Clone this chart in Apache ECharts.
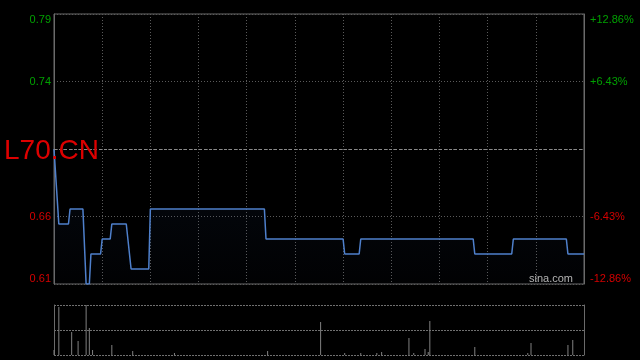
<!DOCTYPE html>
<html>
<head>
<meta charset="utf-8">
<script src="https://cdn.jsdelivr.net/npm/echarts@6/dist/echarts.min.js"></script>
<style>
html,body{margin:0;padding:0;background:#000;}
#c{width:640px;height:360px;}
</style>
</head>
<body>
<div id="c"></div>
<script>
// ---- data ----
const priceMinutes = [0, 1, 3, 9, 10, 18, 20, 22, 23, 29, 30, 35, 36, 45, 46, 47, 48, 59, 60, 131, 132, 180, 181, 190, 191, 261, 262, 285, 286, 319, 320, 330];
const prices       = [0.70, 0.70, 0.65, 0.65, 0.66, 0.66, 0.61, 0.61, 0.63, 0.63, 0.64, 0.64, 0.65, 0.65, 0.64, 0.64, 0.62, 0.62, 0.66, 0.66, 0.64, 0.64, 0.63, 0.63, 0.64, 0.64, 0.63, 0.63, 0.64, 0.64, 0.63, 0.63];
const volMinutes = [0, 3, 11, 15, 20, 22, 24, 36, 49, 75, 133, 166, 181, 191, 201, 204, 221, 224, 231, 233, 234, 262, 295, 297, 320, 323];
const volumes    = [5, 48, 23, 14, 50, 27, 5, 10, 4, 2, 4, 33, 2, 2, 2, 3, 17, 2, 6, 3, 34, 8, 2, 12, 10, 15];
const prevClose = 0.70;
const priceTicks = [0.61, 0.655, 0.70, 0.745, 0.79];
const leftLabels  = ['0.61', '0.66', '', '0.74', '0.79'];
const rightLabels = ['-12.86%', '-6.43%', '', '+6.43%', '+12.86%'];
const sessionMinutes = 330;
const title = 'L70.CN';
const watermark = 'sina.com';

// ---- styling ----
const GREEN = '#00a000', RED = '#d40000';
const FONT = 'Liberation Sans, Arial, sans-serif';
function tagged(labels, i, v) {
  const s = labels[i] !== undefined ? labels[i] : '';
  if (!s) return '';
  return (v > prevClose + 1e-9 ? '{g|' : '{r|') + s + '}';
}
const rich = { g: { color: GREEN, fontSize: 11, fontFamily: FONT }, r: { color: RED, fontSize: 11, fontFamily: FONT } };

const priceData = priceMinutes.map((m, i) => [m, prices[i]]);
const volData = volMinutes.map((m, i) => [m, volumes[i]]);
const volMax = Math.max.apply(null, volumes);

const chart = echarts.init(document.getElementById('c'), null, { renderer: 'canvas' });
chart.setOption({
  backgroundColor: '#000',
  animation: false,
  title: {
    text: title, left: 4, top: 137, padding: 0,
    textStyle: { color: '#dd0000', fontSize: 28, fontWeight: 'normal', fontFamily: FONT }
  },
  graphic: [{
    type: 'text', right: 67, top: 273, z: 10,
    style: { text: watermark, fill: '#b4b4b4', fontSize: 11, fontFamily: FONT }
  }],
  grid: [
    { left: 54, right: 56, top: 14, height: 270, show: true, borderColor: '#6a6a6a', borderWidth: 1, backgroundColor: 'transparent' },
    { left: 54, right: 56, top: 305, height: 50 }
  ],
  xAxis: [
    { type: 'value', gridIndex: 0, min: 0, max: sessionMinutes, interval: 30,
      axisLine: { show: false }, axisTick: { show: false }, axisLabel: { show: false },
      splitLine: { show: true, lineStyle: { color: '#5a5a5a', type: [1, 2], width: 1 } } },
    { type: 'value', gridIndex: 1, min: 0, max: sessionMinutes, interval: 30,
      axisLine: { show: false }, axisTick: { show: false }, axisLabel: { show: false },
      splitLine: { show: false } }
  ],
  yAxis: [
    { type: 'value', gridIndex: 0, position: 'left', min: priceTicks[0], max: priceTicks[priceTicks.length - 1],
      interval: priceTicks[1] - priceTicks[0],
      axisLine: { show: true, lineStyle: { color: '#6a6a6a' } }, axisTick: { show: false },
      axisLabel: { margin: 3, fontSize: 11, fontFamily: FONT, rich: rich,
        verticalAlignMinLabel: 'bottom', verticalAlignMaxLabel: 'top',
        formatter: (v, i) => tagged(leftLabels, i, v) },
      splitLine: { show: true, lineStyle: { color: '#5a5a5a', type: [1, 2], width: 1 } } },
    { type: 'value', gridIndex: 0, position: 'right', min: priceTicks[0], max: priceTicks[priceTicks.length - 1],
      interval: priceTicks[1] - priceTicks[0],
      axisLine: { show: true, lineStyle: { color: '#6a6a6a' } }, axisTick: { show: false },
      axisLabel: { margin: 6, fontSize: 11, fontFamily: FONT, rich: rich,
        verticalAlignMinLabel: 'bottom', verticalAlignMaxLabel: 'top',
        formatter: (v, i) => tagged(rightLabels, i, v) },
      splitLine: { show: false } },
    { type: 'value', gridIndex: 1, position: 'left', min: 0, max: volMax, interval: volMax / 2,
      axisLine: { show: true, lineStyle: { color: '#6a6a6a' } }, axisTick: { show: false }, axisLabel: { show: false },
      splitLine: { show: true, lineStyle: { color: '#707070', type: [2, 1], width: 1 } } },
    { type: 'value', gridIndex: 1, position: 'right', min: 0, max: volMax,
      axisLine: { show: true, lineStyle: { color: '#6a6a6a' } }, axisTick: { show: false }, axisLabel: { show: false },
      splitLine: { show: false } }
  ],
  series: [
    { type: 'line', xAxisIndex: 0, yAxisIndex: 0, data: priceData, symbol: 'none',
      lineStyle: { color: '#4f80cc', width: 1.5 },
      areaStyle: { color: new echarts.graphic.LinearGradient(0, 0, 0, 1, [
        { offset: 0, color: 'rgba(40,70,130,0.18)' }, { offset: 1, color: 'rgba(40,70,130,0.03)' }]) },
      markLine: { silent: true, symbol: 'none', label: { show: false },
        lineStyle: { color: '#8a8a8a', type: [3, 2], width: 1 },
        data: [{ yAxis: prevClose }] } },
    { type: 'bar', xAxisIndex: 1, yAxisIndex: 2, data: volData, barWidth: 1,
      itemStyle: { color: '#808080' } }
  ]
});
</script>
</body>
</html>
